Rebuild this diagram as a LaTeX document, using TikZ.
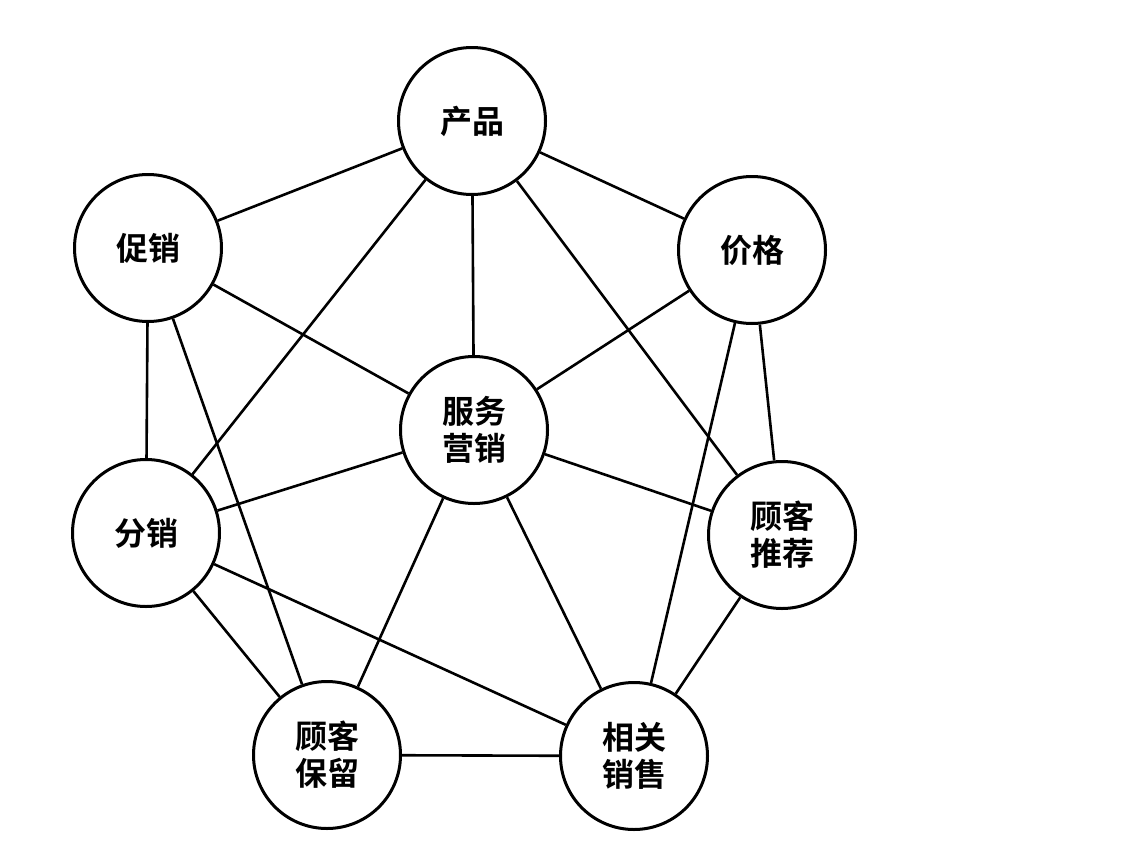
\documentclass[tikz,border=0pt]{standalone}
\usepackage{fontspec}
\newfontfamily\cjk{Noto Sans CJK SC}[BoldFont={Noto Sans CJK SC Bold}]
\begin{document}
\begin{tikzpicture}[x=1pt,y=-1pt,
  circ/.style={draw,circle,line width=3pt,minimum size=147pt,inner sep=0pt,align=center,
    font=\cjk\bfseries\fontsize{32}{37}\selectfont},
  link/.style={line width=2.6pt}]
\useasboundingbox (0,0) rectangle (1127,846);
\node[circ] (A) at (472,121) {产品};
\node[circ] (B) at (148,248) {促销};
\node[circ] (C) at (752,250) {价格};
\node[circ] (D) at (474,430) {服务\\营销};
\node[circ] (E) at (146,533) {分销};
\node[circ] (F) at (782,535) {顾客\\推荐};
\node[circ] (G) at (327,755) {顾客\\保留};
\node[circ] (H) at (634,756) {相关\\销售};
\foreach \a/\b in {A/B,A/C,A/D,A/E,A/F,B/D,B/E,B/G,C/D,C/F,C/H,D/E,D/F,D/G,D/H,E/G,E/H,F/H,G/H}
  \draw[link] (\a) -- (\b);
\end{tikzpicture}
\end{document}
